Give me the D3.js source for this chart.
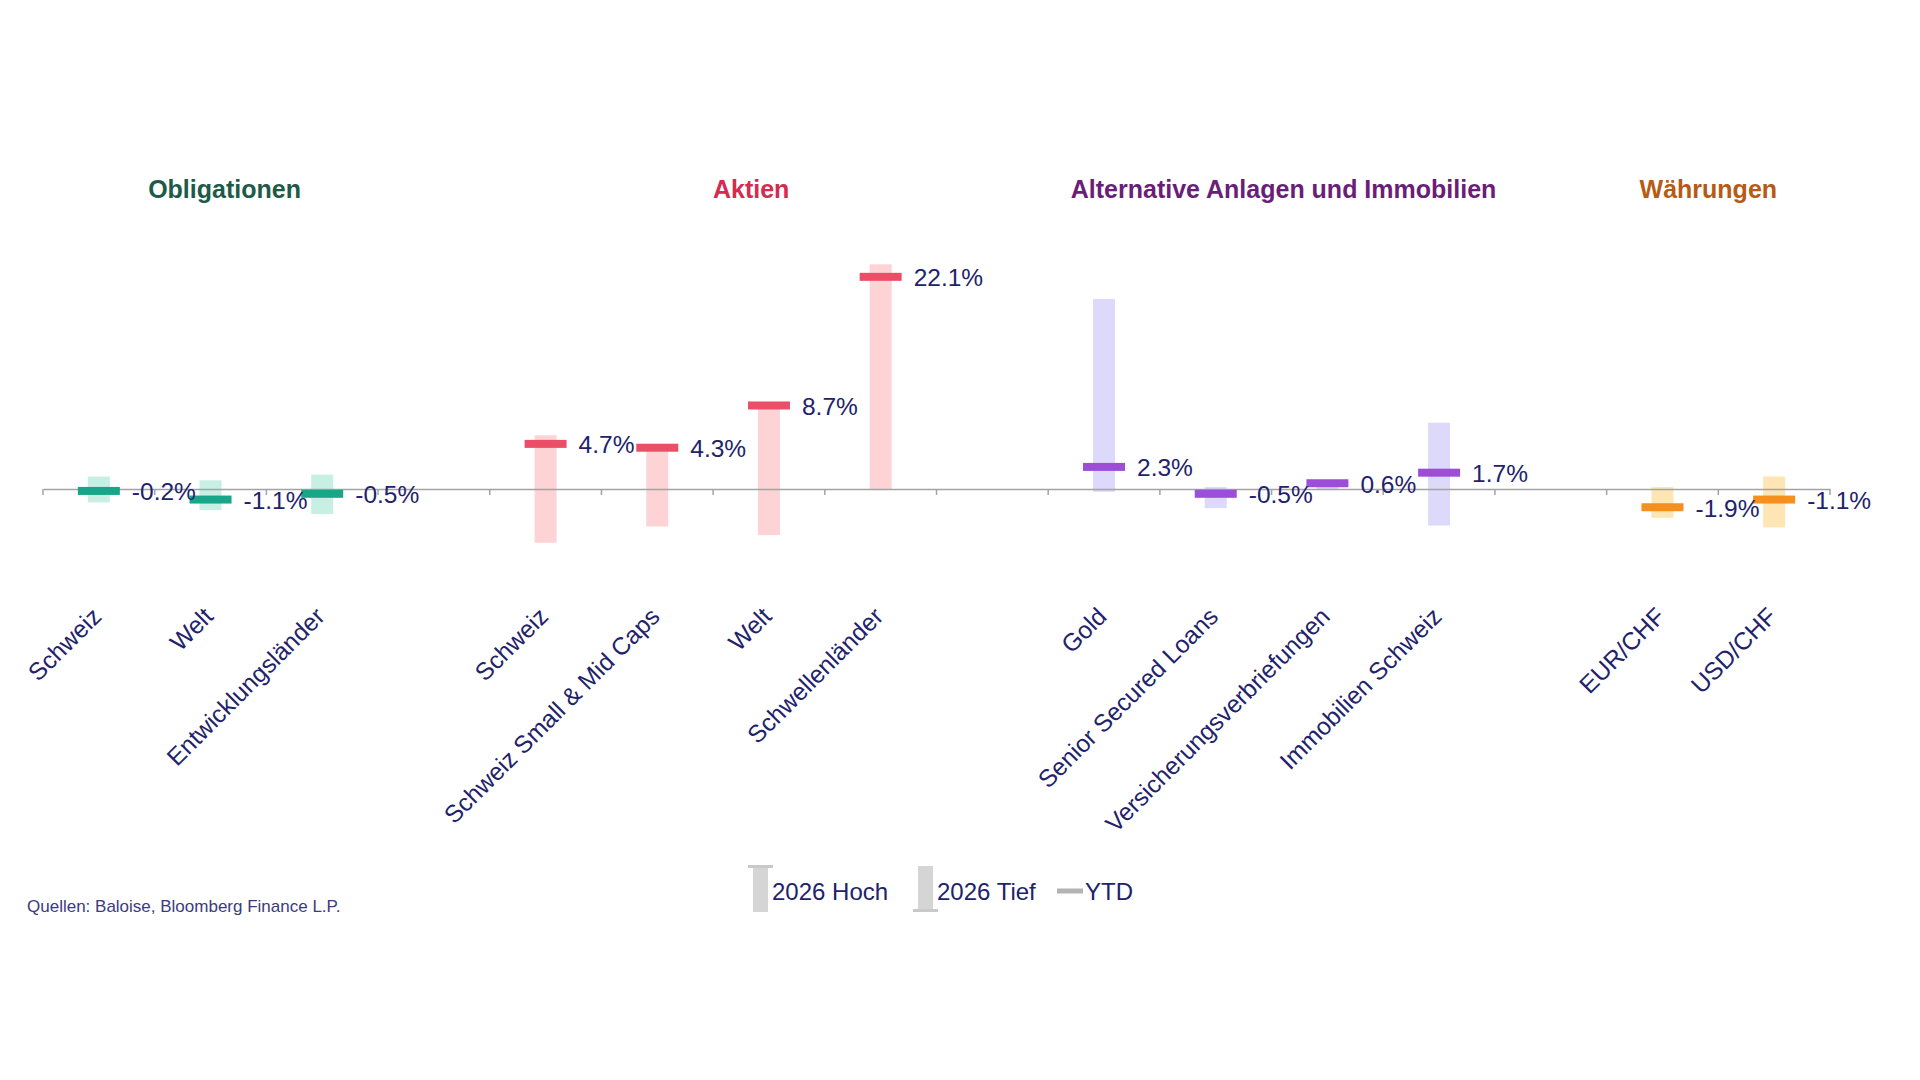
<!DOCTYPE html>
<html>
<head>
<meta charset="utf-8">
<style>
body { margin: 0; background: #fff; }
svg { display: block; font-family: "Liberation Sans", Arial, sans-serif; }
</style>
</head>
<body>
<svg width="1920" height="1080"></svg>
<script src="https://d3js.org/d3.v7.min.js"></script>
<script>

// empty strings are the gaps between the groups
var categories = ["Schweiz", "Welt", "Entwicklungsländer", "",
  "Schweiz", "Schweiz Small & Mid Caps", "Welt", "Schwellenländer", "",
  "Gold", "Senior Secured Loans", "Versicherungsverbriefungen", "Immobilien Schweiz", "",
  "EUR/CHF", "USD/CHF"];
var groupOf = [0, 0, 0, -1, 1, 1, 1, 1, -1, 2, 2, 2, 2, -1, 3, 3];

var groups = ["Obligationen", "Aktien", "Alternative Anlagen und Immobilien", "Währungen"];

var ytd  = [-0.2, -1.1, -0.5, null, 4.7, 4.3, 8.7, 22.1, null, 2.3, -0.5, 0.6, 1.7, null, -1.9, -1.1];
var high = [1.3, 0.9, 1.5, null, 5.6, 4.4, 8.9, 23.4, null, 19.8, 0.2, 0.8, 6.9, null, 0.2, 1.3];
var low  = [-1.4, -2.2, -2.6, null, -5.6, -3.9, -4.8, 0, null, -0.3, -2.0, 0, -3.8, null, -3.0, -4.0];

var legendLabels = ["2026 Hoch", "2026 Tief", "YTD"];
var source = "Quellen: Baloise, Bloomberg Finance L.P.";

var titleColor  = ["#1e5a48", "#d62a4f", "#6a1e78", "#b75a16"];
var markColor   = ["#17a688", "#ea4f67", "#9d4ed8", "#f5901e"];
var rangeColor  = ["#c8efe4", "#fdd3d5", "#ddd9fb", "#fde6b3"];
var textColor = "#22226b";

var svg = d3.select("svg");

var x = d3.scaleBand()
    .domain(d3.range(categories.length))
    .range([43, 1830])
    .padding(0);

var y = d3.scaleLinear()
    .domain([-5, 25])
    .range([537, 249]);

var cx = function(i) { return x(i) + x.bandwidth() / 2; };
var pct = function(v) { return d3.format(".1f")(v).replace("−", "-") + "%"; };

var rows = categories.map(function(c, i) {
  return {i: i, name: c, g: groupOf[i], ytd: ytd[i], high: high[i], low: low[i]};
}).filter(function(d) { return d.g >= 0; });

// high / low ranges, one bar up from zero and one bar down
var barW = 22;
var ranges = svg.append("g");
ranges.selectAll("rect.hoch")
  .data(rows)
  .enter().append("rect")
    .attr("x", function(d) { return cx(d.i) - barW / 2; })
    .attr("y", function(d) { return y(Math.max(0, d.high)); })
    .attr("width", barW)
    .attr("height", function(d) { return Math.abs(y(0) - y(d.high)); })
    .attr("fill", function(d) { return rangeColor[d.g]; });
ranges.selectAll("rect.tief")
  .data(rows)
  .enter().append("rect")
    .attr("x", function(d) { return cx(d.i) - barW / 2; })
    .attr("y", y(0))
    .attr("width", barW)
    .attr("height", function(d) { return Math.abs(y(d.low) - y(0)); })
    .attr("fill", function(d) { return rangeColor[d.g]; });

// zero axis with ticks between the categories
var axis = svg.append("g")
    .attr("transform", "translate(0," + y(0) + ")")
    .call(d3.axisBottom(x).tickSize(0).tickFormat(""));
axis.select(".domain").attr("stroke", "#a3a3a3").attr("stroke-width", 1.5);
axis.selectAll(".tick").remove();
axis.selectAll("line.sep")
  .data(d3.range(categories.length + 1))
  .enter().append("line")
    .attr("x1", function(k) { return 43 + k * x.step(); })
    .attr("x2", function(k) { return 43 + k * x.step(); })
    .attr("y1", 0)
    .attr("y2", 6)
    .attr("stroke", "#a3a3a3")
    .attr("stroke-width", 1.5);

// YTD markers
var markW = 42;
svg.append("g").selectAll("rect")
  .data(rows)
  .enter().append("rect")
    .attr("x", function(d) { return cx(d.i) - markW / 2; })
    .attr("y", function(d) { return y(d.ytd) - 4; })
    .attr("width", markW)
    .attr("height", 8)
    .attr("fill", function(d) { return markColor[d.g]; });

svg.append("g").selectAll("text")
  .data(rows)
  .enter().append("text")
    .attr("x", function(d) { return cx(d.i) + markW / 2 + 12; })
    .attr("y", function(d) { return y(d.ytd); })
    .attr("dy", "0.38em")
    .attr("font-size", 24.5)
    .attr("fill", textColor)
    .text(function(d) { return pct(d.ytd); });

// rotated category labels
svg.append("g").selectAll("text")
  .data(rows)
  .enter().append("text")
    .attr("transform", function(d) { return "translate(" + (cx(d.i) + 4) + ",618) rotate(-45)"; })
    .attr("text-anchor", "end")
    .attr("font-size", 24.5)
    .attr("fill", textColor)
    .text(function(d) { return d.name; });

// group titles
var titleNudge = [14, 38, 12, -10];
svg.append("g").selectAll("text")
  .data(groups)
  .enter().append("text")
    .attr("x", function(g, k) {
      var idx = d3.range(categories.length).filter(function(i) { return groupOf[i] === k; });
      return (cx(idx[0]) + cx(idx[idx.length - 1])) / 2 + titleNudge[k];
    })
    .attr("y", 198)
    .attr("text-anchor", "middle")
    .attr("font-size", 25)
    .attr("font-weight", "bold")
    .attr("fill", function(g, k) { return titleColor[k]; })
    .text(function(g) { return g; });

// legend
var leg = svg.append("g").attr("font-size", 24).attr("fill", textColor);
leg.append("rect").attr("x", 753).attr("y", 866).attr("width", 15).attr("height", 46).attr("fill", "#d5d5d5");
leg.append("rect").attr("x", 748).attr("y", 865).attr("width", 25).attr("height", 3).attr("fill", "#c9c9c9");
leg.append("text").attr("x", 772).attr("y", 900).text(legendLabels[0]);
leg.append("rect").attr("x", 918).attr("y", 866).attr("width", 15).attr("height", 46).attr("fill", "#d5d5d5");
leg.append("rect").attr("x", 913).attr("y", 909).attr("width", 25).attr("height", 3).attr("fill", "#c9c9c9");
leg.append("text").attr("x", 937).attr("y", 900).text(legendLabels[1]);
leg.append("line").attr("x1", 1057).attr("x2", 1083).attr("y1", 891).attr("y2", 891)
  .attr("stroke", "#b3b3b3").attr("stroke-width", 5);
leg.append("text").attr("x", 1085).attr("y", 900).text(legendLabels[2]);

svg.append("text")
    .attr("x", 27)
    .attr("y", 912)
    .attr("font-size", 17)
    .attr("fill", "#3b3b80")
    .text(source);

</script>
</body>
</html>
